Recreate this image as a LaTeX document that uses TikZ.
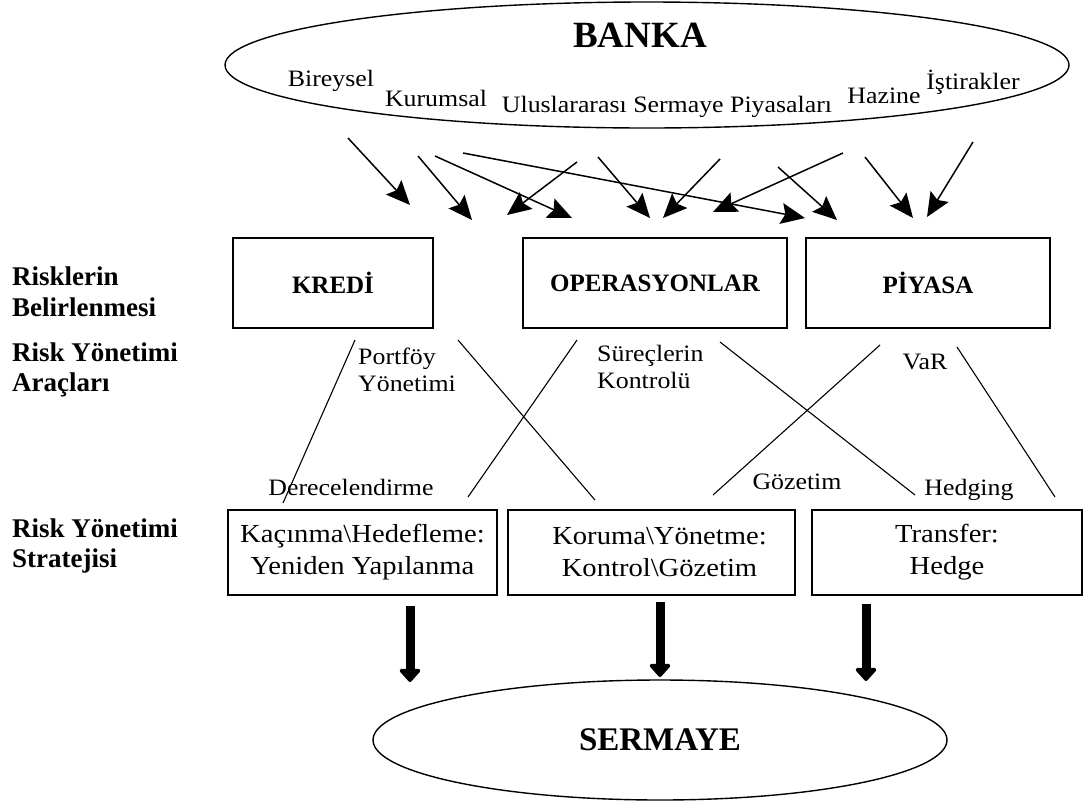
\documentclass[tikz,border=0pt]{standalone}
\usepackage{fontspec}
\setmainfont{Liberation Serif}
\newfontfamily\widerm{Liberation Serif}[FakeStretch=1.1]
\usetikzlibrary{arrows.meta,shapes.geometric}
\begin{document}
\begin{tikzpicture}[x=1pt,y=-1pt,
  oval/.style={draw,ellipse,line width=1.4pt,inner sep=0pt},
  riskbox/.style={draw,line width=1.5pt,minimum height=90pt,inner sep=0pt,font=\fontsize{25}{28}\selectfont\bfseries},
  stratbox/.style={draw,line width=1.5pt,minimum height=85pt,inner sep=0pt,align=center,font=\widerm\fontsize{26}{32}\selectfont},
  lbl/.style={inner sep=0pt,align=left,font=\widerm\fontsize{23.5}{26.5}\selectfont},
  side/.style={anchor=west,align=left,inner sep=0pt,font=\fontsize{27}{30.5}\selectfont\bfseries},
  flow/.style={line width=1.5pt,-{Stealth[length=24pt,width=21pt,inset=4pt]}},
  cross/.style={line width=1.1pt},
  capflow/.style={line width=9pt,-{Triangle[length=14pt,width=24pt,round]}}
]
\useasboundingbox (0,0) rectangle (1085,804);

% bank ellipse with its business lines
\node[oval,minimum width=844pt,minimum height=126pt] (banka) at (647,65) {};
\node[inner sep=0pt,font=\fontsize{37}{40}\selectfont\bfseries] (bankaT) at (640,35) {BANKA};
\node[lbl] (bir) at (331,81) {Bireysel};
\node[lbl] (kur) at (436,98) {Kurumsal};
\node[lbl] (ulu) at (667,107) {Uluslararası Sermaye Piyasaları};
\node[lbl] (haz) at (884,96) {Hazine};
\node[lbl] (ist) at (973,82) {İştirakler};

% arrows from the business lines down to the risk types
\foreach \n/\sx/\sy/\ex/\ey in {
  1/348/138/410/205, 2/418/156/472/220, 3/435/156/572/218,
  4/463/153/805/218, 5/577/162/507/215, 6/598/157/650/218,
  7/720/159/663/218, 8/843/153/713/212, 9/778/167/837/220,
  10/865/157/913/218, 11/973/142/927/217}{
  \coordinate (s\n) at (\sx,\sy);
  \coordinate (e\n) at (\ex,\ey);
  \draw[flow] (s\n) -- (e\n);
}

% row labels
\node[side] (row1) at (12,292) {Risklerin\\Belirlenmesi};
\node[side] (row2) at (12,370) {Risk Yönetimi\\Araçları};
\node[side] (row3) at (12,546) {Risk Yönetimi\\Stratejisi};

% risk types
\node[riskbox,minimum width=200pt] (kredi) at (333,283) {KREDİ};
\node[riskbox,minimum width=264pt] (oper) at (655,283) {OPERASYONLAR};
\node[riskbox,minimum width=244pt] (piy) at (928,283) {PİYASA};

% risk management tools
\node[lbl,anchor=west] (port) at (358,370) {Portföy\\Yönetimi};
\node[lbl,anchor=west] (surec) at (597,367) {Süreçlerin\\Kontrolü};
\node[lbl] (var) at (925,362) {VaR};
\node[lbl] (derece) at (351,487) {Derecelendirme};
\node[lbl] (gozet) at (797,482) {Gözetim};
\node[lbl] (hedg) at (969,490) {Hedging};

% crossing links between tools and strategies
\foreach \n/\sx/\sy/\ex/\ey in {
  A/355/340/283/503, B/458/340/595/500, C/577/340/468/497,
  D/720/342/915/495, E/880/345/713/495, F/957/347/1055/497}{
  \coordinate (t\n) at (\sx,\sy);
  \coordinate (u\n) at (\ex,\ey);
  \draw[cross] (t\n) -- (u\n);
}

% strategies
\node[stratbox,minimum width=269pt] (kac) at (362.5,552.5) {Kaçınma\textbackslash Hedefleme:\\Yeniden Yapılanma};
\node[stratbox,minimum width=287pt] (kor) at (651.5,552.5) {\hspace*{16pt}Koruma\textbackslash Yönetme:\\\hspace*{16pt}Kontrol\textbackslash Gözetim};
\node[stratbox,minimum width=270pt] (tra) at (947,552.5) {Transfer:\\Hedge};

% capital
\node[oval,minimum width=574pt,minimum height=120pt,font=\fontsize{33}{36}\selectfont\bfseries] (serm) at (660,740) {SERMAYE};

\coordinate (k1) at (410,606);
\coordinate (k2) at (410,682);
\coordinate (k3) at (660,602);
\coordinate (k4) at (660,677);
\coordinate (k5) at (866,604);
\coordinate (k6) at (866,681);
\draw[capflow] (k1) -- (k2);
\draw[capflow] (k3) -- (k4);
\draw[capflow] (k5) -- (k6);
\end{tikzpicture}
\end{document}
